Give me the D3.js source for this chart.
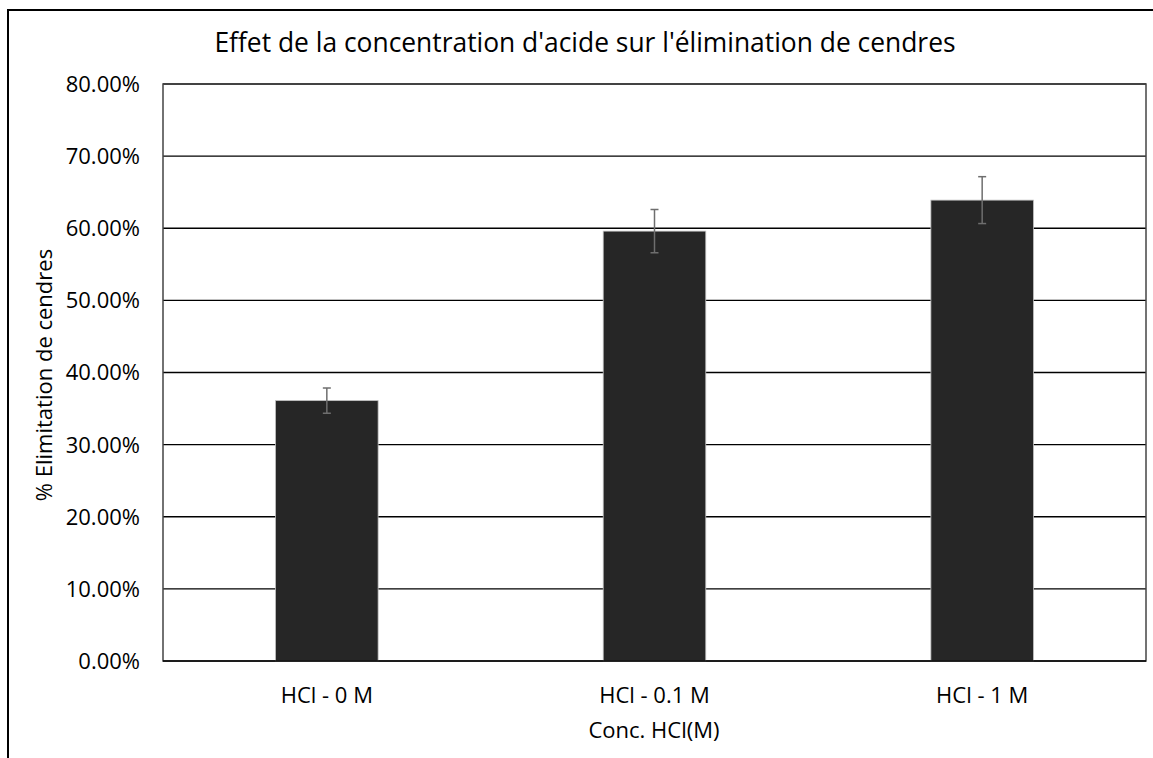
<!DOCTYPE html>
<html>
<head>
<meta charset="utf-8">
<script src="https://cdn.jsdelivr.net/npm/d3@7"></script>
<style>
  body { margin: 0; background: #fff; }
  text { font-family: "Open Sans", sans-serif; fill: #000; }
</style>
</head>
<body>
<script>
// data
var categories = ['HCl - 0 M', 'HCl - 0.1 M', 'HCl - 1 M'];
var values = [0.361, 0.596, 0.639];
var errors = [0.0175, 0.030, 0.0325];
var yTicks = [0, 0.1, 0.2, 0.3, 0.4, 0.5, 0.6, 0.7, 0.8];

var W = 1153, H = 758;
var plotL = 163, plotR = 1146, plotT = 84, plotB = 661;

var svg = d3.select('body').append('svg')
  .attr('width', W)
  .attr('height', H);

// outer frame (only top/left show inside the picture)
svg.append('rect')
  .attr('x', 8).attr('y', 10)
  .attr('width', W).attr('height', H)
  .attr('fill', 'none')
  .attr('stroke', '#000')
  .attr('stroke-width', 2);

// excel style gap width ~219%
var x = d3.scaleBand()
  .domain(categories)
  .range([plotL, plotR])
  .paddingInner(0.687)
  .paddingOuter(0.3435);

var y = d3.scaleLinear()
  .domain([0, 0.8])
  .range([plotB, plotT]);

// gridlines
svg.append('g')
  .selectAll('line')
  .data(yTicks.slice(1))
  .join('line')
  .attr('x1', plotL).attr('x2', plotR)
  .attr('y1', d => y(d)).attr('y2', d => y(d))
  .attr('stroke', '#000')
  .attr('stroke-width', 1.3);

// plot frame
svg.append('rect')
  .attr('x', plotL).attr('y', plotT)
  .attr('width', plotR - plotL).attr('height', plotB - plotT)
  .attr('fill', 'none')
  .attr('stroke', '#444')
  .attr('stroke-width', 1.5);

// bars
svg.append('g')
  .selectAll('rect')
  .data(values)
  .join('rect')
  .attr('x', (d, i) => x(categories[i]))
  .attr('y', d => y(d))
  .attr('width', x.bandwidth())
  .attr('height', d => plotB - y(d))
  .attr('fill', '#262626')
  .attr('stroke', '#bfbfbf')
  .attr('stroke-width', 0.8);

// error bars
var eb = svg.append('g')
  .attr('stroke', '#6e6e6e')
  .attr('stroke-width', 1.5);
values.forEach(function(v, i) {
  var cx = x(categories[i]) + x.bandwidth() / 2;
  eb.append('line')
    .attr('x1', cx).attr('x2', cx)
    .attr('y1', y(v + errors[i])).attr('y2', y(v - errors[i]));
  [v + errors[i], v - errors[i]].forEach(function(e) {
    eb.append('line')
      .attr('x1', cx - 4).attr('x2', cx + 4)
      .attr('y1', y(e)).attr('y2', y(e));
  });
});

// x axis baseline
svg.append('line')
  .attr('x1', plotL).attr('x2', plotR)
  .attr('y1', plotB).attr('y2', plotB)
  .attr('stroke', '#000')
  .attr('stroke-width', 1.5);

// y tick labels
svg.append('g')
  .selectAll('text')
  .data(yTicks)
  .join('text')
  .attr('x', 140)
  .attr('y', d => y(d))
  .attr('dy', '0.36em')
  .attr('text-anchor', 'end')
  .style('font-size', '22px')
  .text(d => d3.format('.2%')(d));

// x tick labels
svg.append('g')
  .selectAll('text')
  .data(categories)
  .join('text')
  .attr('x', d => x(d) + x.bandwidth() / 2)
  .attr('y', 703)
  .attr('text-anchor', 'middle')
  .style('font-size', '22px')
  .text(d => d);

// titles
svg.append('text')
  .attr('x', 585).attr('y', 52)
  .attr('text-anchor', 'middle')
  .style('font-size', '26.4px')
  .text("Effet de la concentration d'acide sur l'élimination de cendres");

svg.append('text')
  .attr('x', 654).attr('y', 738)
  .attr('text-anchor', 'middle')
  .style('font-size', '22px')
  .text('Conc. HCl(M)');

svg.append('text')
  .attr('transform', 'translate(52,375) rotate(-90)')
  .attr('text-anchor', 'middle')
  .style('font-size', '22px')
  .text('% Elimitation de cendres');
</script>
</body>
</html>
